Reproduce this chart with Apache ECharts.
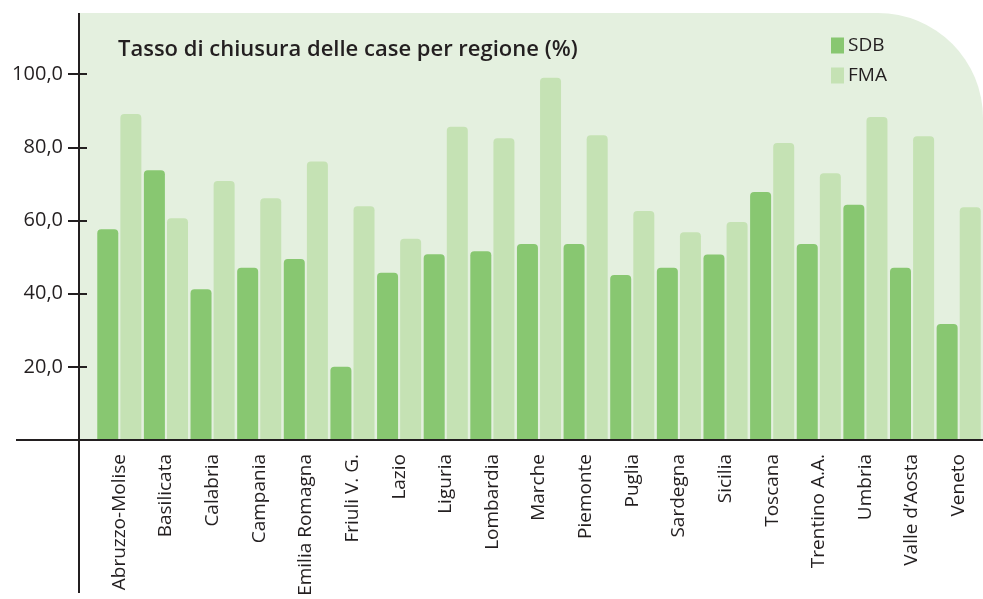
<!DOCTYPE html>
<html>
<head>
<meta charset="utf-8">
<script src="https://cdn.jsdelivr.net/npm/echarts@6/dist/echarts.min.js"></script>
<style>
  html, body { margin: 0; padding: 0; background: #fff; }
  #chart { width: 983px; height: 599px; }
</style>
</head>
<body>
<div id="chart"></div>
<script>
const regions = ['Abruzzo-Molise', 'Basilicata', 'Calabria', 'Campania', 'Emilia Romagna', 'Friuli V. G.', 'Lazio', 'Liguria', 'Lombardia', 'Marche', 'Piemonte', 'Puglia', 'Sardegna', 'Sicilia', 'Toscana', 'Trentino A.A.', 'Umbria', "Valle d\u2019Aosta", 'Veneto']
const sdb = [57.6, 73.7, 41.2, 47.1, 49.5, 20.0, 45.7, 50.8, 51.6, 53.6, 53.6, 45.1, 47.1, 50.7, 67.8, 53.6, 64.3, 47.1, 31.7]
const fma = [89.1, 60.6, 70.8, 66.1, 76.1, 63.9, 55.0, 85.6, 82.5, 99.0, 83.3, 62.6, 56.8, 59.6, 81.2, 72.9, 88.3, 83.0, 63.6]
const yTicks = [20, 40, 60, 80, 100]

const font = '"Open Sans", "Noto Sans", sans-serif'
const ink = '#231F20'

let myChart = echarts.init(document.getElementById('chart'))

const yMax = 116.7

let option = {
    backgroundColor: '#fff',
    animation: false,
    textStyle: {fontFamily: font},
    title: {
        text: 'Tasso di chiusura delle case per regione (%)',
        left: 113,
        top: 34,
        textStyle: {fontFamily: font, fontSize: 22, fontWeight: 600, color: ink},
    },
    legend: {
        orient: 'vertical',
        left: 826,
        top: 31,
        icon: 'rect',
        itemWidth: 13,
        itemHeight: 16,
        itemGap: 11,
        textStyle: {fontFamily: font, fontSize: 19, color: ink, padding: [0, 0, 0, -1]},
        data: ['SDB', 'FMA'],
    },
    grid: {left: 96, right: 1, top: 13, bottom: 159, containLabel: false, outerBoundsMode: 'none'},
    xAxis: {
        type: 'category',
        data: regions,
        axisLine: {show: false},
        axisTick: {show: false},
        axisLabel: {
            rotate: 90,
            margin: 14,
            interval: 0,
            fontFamily: font,
            fontSize: 19,
            color: ink,
        },
    },
    yAxis: [
        {
            type: 'value',
            min: 0,
            max: yMax,
            offset: 17,
            splitLine: {show: false},
            axisLine: {show: false},
            axisTick: {
                show: true,
                length: 11,
                customValues: yTicks,
                lineStyle: {color: ink, width: 2},
            },
            axisLabel: {
                customValues: yTicks,
                margin: 16,
                fontFamily: font,
                fontSize: 20,
                color: ink,
                formatter: (v) => v.toFixed(1).replace('.', ','),
            },
        },
        {
            type: 'value',
            min: 0,
            max: yMax,
            offset: 17,
            position: 'left',
            splitLine: {show: false},
            axisLine: {show: false},
            axisLabel: {show: false},
            axisTick: {
                show: true,
                inside: true,
                length: 8,
                customValues: yTicks,
                lineStyle: {color: ink, width: 2},
            },
        },
    ],
    graphic: [
        {
            type: 'rect',
            z: -10,
            shape: {x: 79, y: 13, width: 904, height: 427, r: [0, 105, 0, 0]},
            style: {fill: '#E4F0DF'},
        },
        {
            type: 'line',
            z: 100,
            shape: {x1: 16, y1: 440, x2: 983, y2: 440},
            style: {stroke: ink, lineWidth: 2},
        },
        {
            type: 'line',
            z: 100,
            shape: {x1: 79, y1: 13, x2: 79, y2: 593},
            style: {stroke: ink, lineWidth: 2},
        },
    ],
    series: [
        {
            name: 'SDB',
            type: 'bar',
            data: sdb,
            barWidth: 21,
            barGap: '10%',
            itemStyle: {color: '#88C771', borderRadius: [4, 4, 0, 0]},
        },
        {
            name: 'FMA',
            type: 'bar',
            data: fma,
            barWidth: 21,
            itemStyle: {color: '#C5E2B4', borderRadius: [4, 4, 0, 0]},
        },
    ],
}

myChart.setOption(option)
</script>
</body>
</html>
